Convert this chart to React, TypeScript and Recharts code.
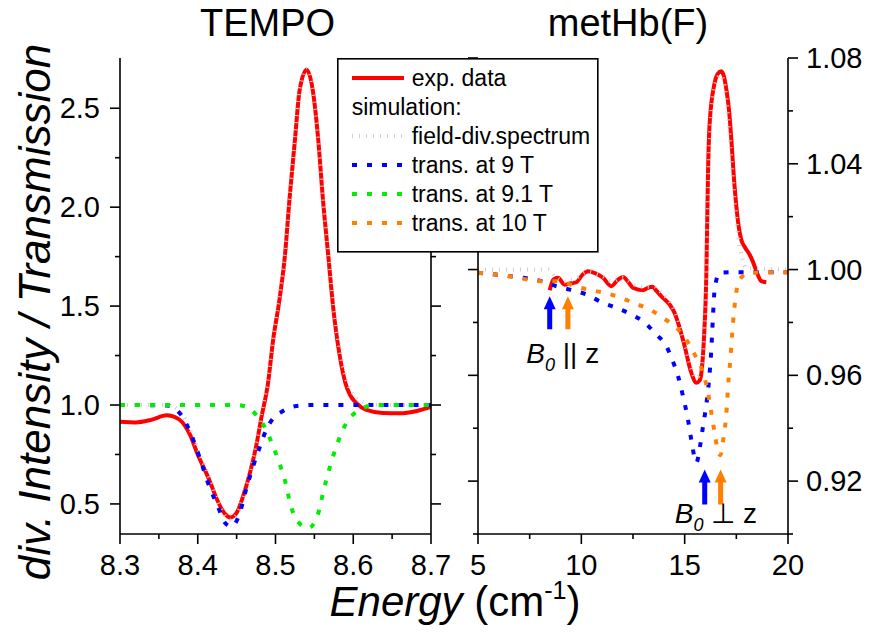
import React from 'react';
import { LineChart, Line, XAxis, YAxis, ReferenceDot, Legend } from 'recharts';

const FONT = "'Liberation Sans', Arial, Helvetica, sans-serif";

// ---------- TEMPO panel data ----------
const tempoExp = [
  { x: 8.3, y: 0.915 }, { x: 8.32, y: 0.912 }, { x: 8.34, y: 0.925 }, { x: 8.36, y: 0.948 },
  { x: 8.375, y: 0.93 }, { x: 8.39, y: 0.85 }, { x: 8.4, y: 0.75 }, { x: 8.415, y: 0.62 },
  { x: 8.425, y: 0.52 }, { x: 8.435, y: 0.45 }, { x: 8.442, y: 0.432 }, { x: 8.45, y: 0.455 },
  { x: 8.458, y: 0.535 }, { x: 8.467, y: 0.655 }, { x: 8.475, y: 0.79 }, { x: 8.482, y: 0.94 },
  { x: 8.49, y: 1.1 }, { x: 8.497, y: 1.33 }, { x: 8.505, y: 1.53 }, { x: 8.512, y: 1.75 },
  { x: 8.518, y: 2.04 }, { x: 8.525, y: 2.34 }, { x: 8.531, y: 2.59 }, { x: 8.54, y: 2.695 },
  { x: 8.548, y: 2.59 }, { x: 8.555, y: 2.34 }, { x: 8.561, y: 2.04 }, { x: 8.568, y: 1.75 },
  { x: 8.574, y: 1.5 }, { x: 8.583, y: 1.24 }, { x: 8.59, y: 1.11 }, { x: 8.596, y: 1.05 },
  { x: 8.604, y: 1.01 }, { x: 8.617, y: 0.975 }, { x: 8.638, y: 0.96 }, { x: 8.66, y: 0.958 },
  { x: 8.682, y: 0.97 }, { x: 8.7, y: 0.99 },
];
const tempoFieldDiv = [
  { x: 8.3, y: 1.0 }, { x: 8.36, y: 1.0 }, { x: 8.372, y: 0.985 }, { x: 8.385, y: 0.92 },
  { x: 8.4, y: 0.78 }, { x: 8.415, y: 0.63 }, { x: 8.425, y: 0.52 }, { x: 8.435, y: 0.44 },
  { x: 8.442, y: 0.42 }, { x: 8.45, y: 0.445 }, { x: 8.458, y: 0.53 }, { x: 8.467, y: 0.66 },
  { x: 8.475, y: 0.8 }, { x: 8.482, y: 0.96 }, { x: 8.49, y: 1.12 }, { x: 8.497, y: 1.34 },
  { x: 8.505, y: 1.55 }, { x: 8.512, y: 1.77 }, { x: 8.518, y: 2.05 }, { x: 8.525, y: 2.35 },
  { x: 8.531, y: 2.6 }, { x: 8.54, y: 2.7 }, { x: 8.548, y: 2.6 }, { x: 8.555, y: 2.35 },
  { x: 8.561, y: 2.05 }, { x: 8.568, y: 1.77 }, { x: 8.574, y: 1.52 }, { x: 8.583, y: 1.27 },
  { x: 8.59, y: 1.14 }, { x: 8.598, y: 1.07 }, { x: 8.606, y: 1.03 }, { x: 8.62, y: 1.005 },
  { x: 8.64, y: 1.0 }, { x: 8.7, y: 1.0 },
];
const tempoTrans9 = [
  { x: 8.3, y: 1.0 }, { x: 8.36, y: 0.998 }, { x: 8.377, y: 0.958 }, { x: 8.389, y: 0.874 },
  { x: 8.402, y: 0.739 }, { x: 8.415, y: 0.587 }, { x: 8.426, y: 0.486 }, { x: 8.434, y: 0.41 },
  { x: 8.443, y: 0.385 }, { x: 8.454, y: 0.453 }, { x: 8.462, y: 0.571 }, { x: 8.471, y: 0.688 },
  { x: 8.48, y: 0.79 }, { x: 8.488, y: 0.874 }, { x: 8.497, y: 0.933 }, { x: 8.508, y: 0.966 },
  { x: 8.527, y: 0.995 }, { x: 8.55, y: 1.0 }, { x: 8.7, y: 1.0 },
];
const tempoTrans91 = [
  { x: 8.3, y: 1.0 }, { x: 8.45, y: 1.0 }, { x: 8.462, y: 0.992 }, { x: 8.477, y: 0.941 },
  { x: 8.488, y: 0.874 }, { x: 8.497, y: 0.79 }, { x: 8.505, y: 0.706 }, { x: 8.512, y: 0.621 },
  { x: 8.52, y: 0.486 }, { x: 8.529, y: 0.41 }, { x: 8.542, y: 0.377 }, { x: 8.555, y: 0.453 },
  { x: 8.561, y: 0.554 }, { x: 8.57, y: 0.688 }, { x: 8.576, y: 0.764 }, { x: 8.583, y: 0.84 },
  { x: 8.591, y: 0.908 }, { x: 8.604, y: 0.966 }, { x: 8.617, y: 0.992 }, { x: 8.63, y: 1.0 },
  { x: 8.7, y: 1.0 },
];

// ---------- metHb(F) panel data ----------
const methbExp = [
  { x: 8.47, y: 0.9922 }, { x: 8.65, y: 0.9962 }, { x: 8.87, y: 0.9969 }, { x: 9.19, y: 0.9943 },
  { x: 9.5, y: 0.9948 }, { x: 9.76, y: 0.9952 }, { x: 10.05, y: 0.998 }, { x: 10.32, y: 0.9994 },
  { x: 10.7, y: 0.9985 }, { x: 11.05, y: 0.9969 }, { x: 11.45, y: 0.9937 }, { x: 11.75, y: 0.996 },
  { x: 12.02, y: 0.9972 }, { x: 12.25, y: 0.9955 }, { x: 12.5, y: 0.9931 }, { x: 12.98, y: 0.9922 },
  { x: 13.2, y: 0.993 }, { x: 13.44, y: 0.9935 }, { x: 13.65, y: 0.9918 }, { x: 13.87, y: 0.9899 },
  { x: 14.27, y: 0.9868 }, { x: 14.5, y: 0.9838 }, { x: 14.68, y: 0.9799 }, { x: 15.0, y: 0.971 },
  { x: 15.32, y: 0.961 }, { x: 15.57, y: 0.9572 }, { x: 15.72, y: 0.958 }, { x: 15.81, y: 0.961 },
  { x: 15.93, y: 0.9735 }, { x: 16.05, y: 0.9988 }, { x: 16.13, y: 1.0366 }, { x: 16.21, y: 1.0555 },
  { x: 16.45, y: 1.0706 }, { x: 16.6, y: 1.074 }, { x: 16.78, y: 1.075 }, { x: 16.9, y: 1.073 },
  { x: 17.02, y: 1.068 }, { x: 17.15, y: 1.06 }, { x: 17.26, y: 1.049 }, { x: 17.38, y: 1.035 },
  { x: 17.5, y: 1.024 }, { x: 17.62, y: 1.016 }, { x: 17.74, y: 1.0113 }, { x: 17.95, y: 1.008 },
  { x: 18.14, y: 1.0057 }, { x: 18.3, y: 1.003 }, { x: 18.47, y: 0.9994 }, { x: 18.71, y: 0.9956 },
  { x: 18.95, y: 0.9952 },
];
const methbFieldDiv = [
  { x: 5, y: 1.0 }, { x: 8.4, y: 1.0 }, { x: 8.7, y: 0.9975 }, { x: 9.2, y: 0.9955 },
  { x: 9.8, y: 0.997 }, { x: 10.3, y: 0.9992 }, { x: 11.0, y: 0.9975 }, { x: 11.5, y: 0.9955 },
  { x: 12.0, y: 0.997 }, { x: 12.5, y: 0.9945 }, { x: 13.0, y: 0.9935 }, { x: 13.5, y: 0.9935 },
  { x: 13.9, y: 0.991 }, { x: 14.3, y: 0.9875 }, { x: 14.7, y: 0.9805 }, { x: 15.0, y: 0.972 },
  { x: 15.3, y: 0.963 }, { x: 15.55, y: 0.959 }, { x: 15.8, y: 0.9625 }, { x: 15.95, y: 0.975 },
  { x: 16.05, y: 0.998 }, { x: 16.15, y: 1.036 }, { x: 16.25, y: 1.055 }, { x: 16.45, y: 1.0695 },
  { x: 16.75, y: 1.0735 }, { x: 17.0, y: 1.066 }, { x: 17.2, y: 1.048 }, { x: 17.4, y: 1.028 },
  { x: 17.6, y: 1.012 }, { x: 17.8, y: 1.004 }, { x: 18.0, y: 1.0005 }, { x: 20, y: 1.0 },
];
const methbTrans9 = [
  { x: 5, y: 0.9988 }, { x: 6.53, y: 0.9975 }, { x: 8.07, y: 0.9956 }, { x: 8.79, y: 0.9937 },
  { x: 9.44, y: 0.9924 }, { x: 10.24, y: 0.9906 }, { x: 11.05, y: 0.9874 }, { x: 11.7, y: 0.9855 },
  { x: 12.42, y: 0.983 }, { x: 13.07, y: 0.9799 }, { x: 13.63, y: 0.9754 }, { x: 14.12, y: 0.971 },
  { x: 14.36, y: 0.9666 }, { x: 14.68, y: 0.9597 }, { x: 14.92, y: 0.9521 }, { x: 15.16, y: 0.9433 },
  { x: 15.32, y: 0.9357 }, { x: 15.57, y: 0.927 }, { x: 15.73, y: 0.9326 }, { x: 15.89, y: 0.9408 },
  { x: 16.08, y: 0.9509 }, { x: 16.21, y: 0.961 }, { x: 16.29, y: 0.9698 }, { x: 16.37, y: 0.9823 },
  { x: 16.45, y: 0.9924 }, { x: 16.69, y: 0.9988 }, { x: 17.34, y: 0.999 }, { x: 20, y: 0.999 },
];
const methbTrans10 = [
  { x: 5, y: 0.9988 }, { x: 6.53, y: 0.9975 }, { x: 8.07, y: 0.9956 }, { x: 8.95, y: 0.9956 },
  { x: 9.68, y: 0.9937 }, { x: 10.32, y: 0.9924 }, { x: 11.13, y: 0.9912 }, { x: 11.94, y: 0.9893 },
  { x: 12.5, y: 0.9874 }, { x: 13.31, y: 0.9849 }, { x: 13.95, y: 0.9817 }, { x: 14.6, y: 0.978 },
  { x: 15.08, y: 0.9735 }, { x: 15.48, y: 0.9679 }, { x: 15.89, y: 0.961 }, { x: 16.13, y: 0.9534 },
  { x: 16.29, y: 0.9458 }, { x: 16.45, y: 0.9383 }, { x: 16.62, y: 0.931 }, { x: 16.72, y: 0.9298 },
  { x: 16.89, y: 0.937 }, { x: 17.02, y: 0.9458 }, { x: 17.1, y: 0.9559 }, { x: 17.21, y: 0.966 },
  { x: 17.34, y: 0.9799 }, { x: 17.47, y: 0.9899 }, { x: 17.66, y: 0.9962 }, { x: 18.14, y: 0.9988 },
  { x: 20, y: 0.999 },
];

// ---------- axes ----------
const tempoXDomain = [8.3, 8.7];
const tempoXTicks = [8.3, 8.35, 8.4, 8.45, 8.5, 8.55, 8.6, 8.65, 8.7];
const tempoXMajor = [8.3, 8.4, 8.5, 8.6, 8.7];
const tempoYDomain = [0.348, 2.754];
const tempoYTicks = [0.5, 0.75, 1.0, 1.25, 1.5, 1.75, 2.0, 2.25, 2.5];
const tempoYMajor = [0.5, 1.0, 1.5, 2.0, 2.5];

const methbXDomain = [5, 20];
const methbXTicks = [5, 7.5, 10, 12.5, 15, 17.5, 20];
const methbXMajor = [5, 10, 15, 20];
const methbYDomain = [0.9, 1.08];
const methbYTicks = [0.9, 0.92, 0.94, 0.96, 0.98, 1.0, 1.02, 1.04, 1.06, 1.08];
const methbYMajor = [0.92, 0.96, 1.0, 1.04, 1.08];

// annotation arrows (x, arrow-tip y)
const arrowsParallel = [
  { x: 8.47, y: 0.9899, color: '#0000ff' },
  { x: 9.35, y: 0.9899, color: '#ff8000' },
];
const arrowsPerp = [
  { x: 15.97, y: 0.9244, color: '#0000ff' },
  { x: 16.74, y: 0.9244, color: '#ff8000' },
];

const series = [
  { name: 'exp. data', color: '#ff0000', dash: undefined as string | undefined, width: 4 },
  { name: 'field-div.spectrum', color: '#cfcfcf', dash: '1 6', width: 4 },
  { name: 'trans. at 9 T', color: '#0000ff', dash: '5 10', width: 4 },
  { name: 'trans. at 9.1 T', color: '#00ee00', dash: '5 10', width: 4 },
  { name: 'trans. at 10 T', color: '#ff8000', dash: '5 10', width: 4 },
];

const W = 869;
const H = 639;
const PLOT_TOP = 58;
const PLOT_BOTTOM = 534;
const L_LEFT = 120;
const L_RIGHT = 431;
const R_LEFT = 478;
const R_RIGHT = 788;
const AX = { stroke: '#000', strokeWidth: 1.6 };

const isIn = (arr: number[], v: number) => arr.some((m) => Math.abs(m - v) < 1e-9);

function makeTick(side: string, majors: number[], fmt: ((v: number) => string) | null) {
  return (props: any) => {
    const { x, y, payload } = props;
    const v = Number(payload.value);
    const major = isIn(majors, v);
    const len = major ? 10 : 5;
    let line: any = null;
    let text: any = null;
    const tp = { fontFamily: FONT, fontSize: 29, fill: '#000' };
    if (side === 'bottom') {
      line = <line x1={x} y1={y} x2={x} y2={y + len} stroke="#000" strokeWidth={1.6} />;
      if (fmt && major) text = <text x={x} y={y + 41} textAnchor="middle" {...tp}>{fmt(v)}</text>;
    } else if (side === 'left') {
      line = <line x1={x} y1={y} x2={x - len} y2={y} stroke="#000" strokeWidth={1.6} />;
      if (fmt && major) text = <text x={x - 20} y={y + 10} textAnchor="end" {...tp}>{fmt(v)}</text>;
    } else {
      line = <line x1={x} y1={y} x2={x + len} y2={y} stroke="#000" strokeWidth={1.6} />;
      if (fmt && major) text = <text x={x + 18} y={y + 10} textAnchor="start" {...tp}>{fmt(v)}</text>;
    }
    return (
      <g>
        {line}
        {text}
      </g>
    );
  };
}

const UpArrow = (color: string, len: number) => (props: any) => {
  const { cx, cy } = props;
  const pts = [
    [cx, cy], [cx + 6, cy + 13], [cx + 2.5, cy + 13], [cx + 2.5, cy + len],
    [cx - 2.5, cy + len], [cx - 2.5, cy + 13], [cx - 6, cy + 13],
  ].map((p) => p.join(',')).join(' ');
  return <polygon points={pts} fill={color} />;
};

const BLabel = (sym: string) => (props: any) => {
  const { cx, cy } = props;
  return (
    <text x={cx} y={cy} fontFamily={FONT} fontSize={28} fill="#000">
      <tspan fontStyle="italic">B</tspan>
      <tspan fontStyle="italic" fontSize={18} dy={8}>0</tspan>
      <tspan dy={-8}>{sym}</tspan>
    </text>
  );
};

const LegendBox = () => (
  <svg width={262} height={195} style={{ display: 'block' }}>
    <rect x={0.8} y={0.8} width={260} height={193} fill="#fff" stroke="#000" strokeWidth={1.6} />
    {[series[0], null, ...series.slice(1)].map((s, i) => {
      const base = 28 + 29 * i;
      if (!s) {
        return (
          <text key="sim" x={14.7} y={base} fontFamily={FONT} fontSize={23} fill="#000">simulation:</text>
        );
      }
      return (
        <g key={s.name}>
          <line x1={15} y1={base - 8} x2={67} y2={base - 8} stroke={s.color} strokeWidth={s.width}
            strokeDasharray={s.dash} />
          <text x={74.7} y={base} fontFamily={FONT} fontSize={23} fill="#000">{s.name}</text>
        </g>
      );
    })}
  </svg>
);

const lineCommon = { type: 'monotone' as const, dot: false, isAnimationActive: false, dataKey: 'y', activeDot: false };

export default function App() {
  return (
    <div style={{ position: 'absolute', left: 0, top: 0, width: W, height: H, background: '#fff', overflow: 'hidden' }}>
      {/* TEMPO panel */}
      <div style={{ position: 'absolute', left: 0, top: 0 }}>
        <LineChart width={W} height={H}
          margin={{ top: PLOT_TOP, right: W - L_RIGHT - 10, bottom: H - PLOT_BOTTOM - 30, left: L_LEFT - 60 }}>
          <XAxis xAxisId="b" dataKey="x" type="number" domain={tempoXDomain} ticks={tempoXTicks} interval={0}
            allowDataOverflow height={30} tickSize={0} tickMargin={0} tickLine={false} axisLine={AX}
            tick={makeTick('bottom', tempoXMajor, (v) => v.toFixed(1))} />
          <XAxis xAxisId="t" orientation="top" dataKey="x" type="number" domain={tempoXDomain} allowDataOverflow
            height={0} tick={false} tickLine={false} axisLine={AX} />
          <YAxis yAxisId="l" type="number" domain={tempoYDomain} ticks={tempoYTicks} interval={0} allowDataOverflow
            width={60} tickSize={0} tickMargin={0} tickLine={false} axisLine={AX}
            tick={makeTick('left', tempoYMajor, (v) => v.toFixed(1))} />
          <YAxis yAxisId="r" orientation="right" type="number" domain={tempoYDomain} ticks={tempoYTicks} interval={0}
            allowDataOverflow width={10} tickSize={0} tickMargin={0} tickLine={false} axisLine={AX}
            tick={makeTick('right', tempoYMajor, null)} />
          <Line {...lineCommon} xAxisId="b" yAxisId="l" data={tempoExp} name={series[0].name}
            stroke={series[0].color} strokeWidth={series[0].width} />
          <Line {...lineCommon} xAxisId="b" yAxisId="l" data={tempoFieldDiv} name={series[1].name}
            stroke={series[1].color} strokeWidth={series[1].width} strokeDasharray={series[1].dash} />
          <Line {...lineCommon} xAxisId="b" yAxisId="l" data={tempoTrans9} name={series[2].name}
            stroke={series[2].color} strokeWidth={series[2].width} strokeDasharray={series[2].dash} />
          <Line {...lineCommon} xAxisId="b" yAxisId="l" data={tempoTrans91} name={series[3].name}
            stroke={series[3].color} strokeWidth={series[3].width} strokeDasharray={series[3].dash} />
        </LineChart>
      </div>

      {/* metHb(F) panel */}
      <div style={{ position: 'absolute', left: 0, top: 0 }}>
        <LineChart width={W} height={H}
          margin={{ top: PLOT_TOP, right: W - R_RIGHT - 81, bottom: H - PLOT_BOTTOM - 30, left: R_LEFT - 10 }}>
          <XAxis xAxisId="b" dataKey="x" type="number" domain={methbXDomain} ticks={methbXTicks} interval={0}
            allowDataOverflow height={30} tickSize={0} tickMargin={0} tickLine={false} axisLine={AX}
            tick={makeTick('bottom', methbXMajor, (v) => String(v))} />
          <XAxis xAxisId="t" orientation="top" dataKey="x" type="number" domain={methbXDomain} allowDataOverflow
            height={0} tick={false} tickLine={false} axisLine={AX} />
          <YAxis yAxisId="r" orientation="right" type="number" domain={methbYDomain} ticks={methbYTicks} interval={0}
            allowDataOverflow width={81} tickSize={0} tickMargin={0} tickLine={false} axisLine={AX}
            tick={makeTick('right', methbYMajor, (v) => v.toFixed(2))} />
          <YAxis yAxisId="l" orientation="left" type="number" domain={methbYDomain} ticks={methbYTicks} interval={0}
            allowDataOverflow width={10} tickSize={0} tickMargin={0} tickLine={false} axisLine={AX}
            tick={makeTick('left', methbYMajor, null)} />
          <Line {...lineCommon} xAxisId="b" yAxisId="r" data={methbExp} name={series[0].name}
            stroke={series[0].color} strokeWidth={series[0].width} />
          <Line {...lineCommon} xAxisId="b" yAxisId="r" data={methbFieldDiv} name={series[1].name}
            stroke={series[1].color} strokeWidth={series[1].width} strokeDasharray={series[1].dash} />
          <Line {...lineCommon} xAxisId="b" yAxisId="r" data={methbTrans9} name={series[2].name}
            stroke={series[2].color} strokeWidth={series[2].width} strokeDasharray={series[2].dash} />
          <Line {...lineCommon} xAxisId="b" yAxisId="r" data={methbTrans10} name={series[4].name}
            stroke={series[4].color} strokeWidth={series[4].width} strokeDasharray={series[4].dash} />
          {arrowsParallel.map((a, i) => (
            <ReferenceDot key={'ap' + i} xAxisId="b" yAxisId="r" x={a.x} y={a.y} r={1} ifOverflow="visible"
              shape={UpArrow(a.color, 33)} />
          ))}
          {arrowsPerp.map((a, i) => (
            <ReferenceDot key={'aq' + i} xAxisId="b" yAxisId="r" x={a.x} y={a.y} r={1} ifOverflow="visible"
              shape={UpArrow(a.color, 35)} />
          ))}
          <ReferenceDot xAxisId="b" yAxisId="r" x={7.34} y={0.9647} r={1} ifOverflow="visible"
            shape={BLabel(' || z')} />
          <ReferenceDot xAxisId="b" yAxisId="r" x={14.52} y={0.9043} r={1} ifOverflow="visible"
            shape={BLabel(' \u22A5 z')} />
          <Legend verticalAlign="middle" align="center" layout="horizontal"
            wrapperStyle={{ left: 337, top: 58, width: 262, height: 195 }}
            content={() => <LegendBox />} />
        </LineChart>
      </div>

      {/* titles and axis labels */}
      <svg width={W} height={H} style={{ position: 'absolute', left: 0, top: 0, pointerEvents: 'none' }}>
        <text x={267.5} y={36} textAnchor="middle" fontFamily={FONT} fontSize={38} fill="#000">TEMPO</text>
        <text x={628} y={36} textAnchor="middle" fontFamily={FONT} fontSize={38} fill="#000">metHb(F)</text>
        <text transform="translate(50,312) rotate(-90)" textAnchor="middle" fontFamily={FONT} fontSize={44}
          fontStyle="italic" fill="#000">div. Intensity / Transmission</text>
        <text x={455} y={616} textAnchor="middle" fontFamily={FONT} fontSize={42} fill="#000">
          <tspan fontStyle="italic">Energy</tspan>
          <tspan> (cm</tspan>
          <tspan fontSize={25} dy={-17}>-1</tspan>
          <tspan dy={17}>)</tspan>
        </text>
      </svg>
    </div>
  );
}
